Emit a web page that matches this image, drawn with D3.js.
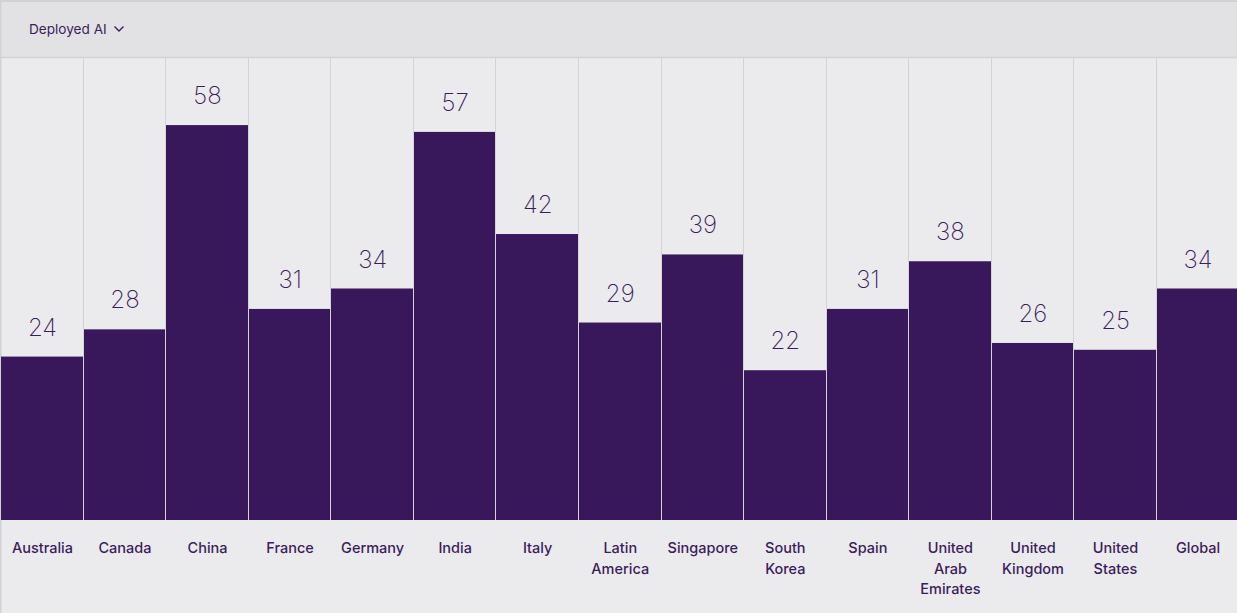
<!DOCTYPE html>
<html><head><meta charset="utf-8">
<script src="https://cdn.jsdelivr.net/npm/d3@7"></script>
<style>
html,body{margin:0;padding:0;background:#ebebed;}
svg{display:block;}
</style></head>
<body><svg id="chart" width="1237" height="613"></svg>
<script>
const categories = ["Australia","Canada","China","France","Germany","India","Italy","Latin America","Singapore","South Korea","Spain","United Arab Emirates","United Kingdom","United States","Global"];
const values = [24,28,58,31,34,57,42,29,39,22,31,38,26,25,34];
const dropdownLabel = "Deployed AI";

const W = 1237, H = 613;
const svg = d3.select("#chart");
const purple = "#38175a";
const textCol = "#3b1d5c";

svg.append("rect").attr("x",0).attr("y",0).attr("width",W).attr("height",H).attr("fill","#ebebed");
// header
svg.append("rect").attr("x",0).attr("y",0).attr("width",W).attr("height",58).attr("fill","#e2e2e4");
svg.append("line").attr("x1",0).attr("x2",W).attr("y1",1).attr("y2",1).attr("stroke","#d2d2d4").attr("stroke-width",2);
svg.append("line").attr("x1",0).attr("x2",W).attr("y1",57.5).attr("y2",57.5).attr("stroke","#d2d2d4").attr("stroke-width",1.5);
svg.append("line").attr("x1",0.75).attr("x2",0.75).attr("y1",0).attr("y2",H).attr("stroke","#d2d2d4").attr("stroke-width",1.5);

svg.append("text").attr("x",29).attr("y",34).text(dropdownLabel)
  .attr("font-family","Inter, 'Noto Sans', sans-serif").attr("font-size",13.6).attr("fill",textCol);
svg.append("path").attr("d","M114.5,26.5 L119,31 L123.5,26.5").attr("fill","none").attr("stroke",textCol).attr("stroke-width",1.4);

const x = d3.scaleBand().domain(categories).range([1.2, 1239.3]).paddingInner(0).paddingOuter(0);
const y = d3.scaleLinear().domain([0,68]).range([520,57]);

// column dividers
svg.append("g").selectAll("line").data(categories.slice(1)).join("line")
  .attr("x1",d=>Math.round(x(d))-0.5).attr("x2",d=>Math.round(x(d))-0.5)
  .attr("y1",58).attr("y2",520).attr("stroke","#d4d4d6").attr("stroke-width",1);

svg.append("g").selectAll("rect").data(values).join("rect")
  .attr("x",(d,i)=>Math.round(x(categories[i])))
  .attr("width",(d,i)=>Math.round(x(categories[i])+x.bandwidth())-Math.round(x(categories[i]))-1)
  .attr("y",d=>y(d)).attr("height",d=>y(0)-y(d)).attr("fill",purple);

svg.append("g").selectAll("text").data(values).join("text")
  .attr("x",(d,i)=>x(categories[i])+x.bandwidth()/2)
  .attr("y",d=>y(d)-21)
  .attr("text-anchor","middle")
  .attr("font-family","Inter, 'Noto Sans', sans-serif").attr("font-weight",200)
  .attr("font-size",24).attr("fill",textCol).text(d=>d);

const lab = svg.append("g").selectAll("text").data(categories).join("text")
  .attr("x",d=>x(d)+x.bandwidth()/2).attr("y",553)
  .attr("text-anchor","middle")
  .attr("font-family","Inter, 'Noto Sans', sans-serif").attr("font-weight",500)
  .attr("font-size",14.5).attr("fill",textCol);
lab.each(function(d){
  const words = d.split(" ");
  d3.select(this).selectAll("tspan").data(words).join("tspan")
    .attr("x",x(d)+x.bandwidth()/2).attr("dy",(w,i)=>i===0?0:20.5).text(w=>w);
});
</script></body></html>
